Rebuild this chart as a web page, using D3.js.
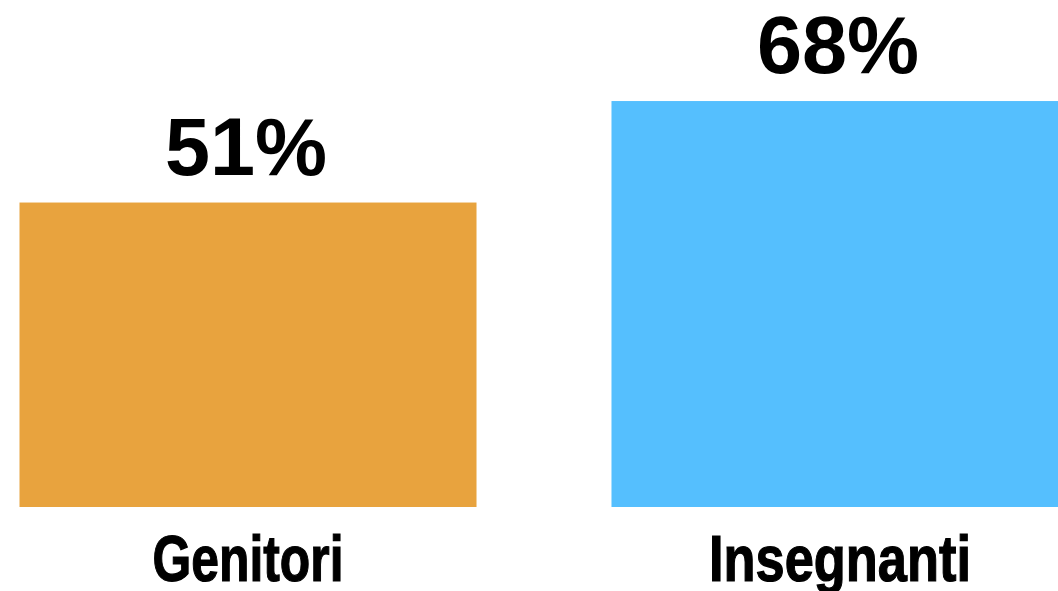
<!DOCTYPE html>
<html>
<head>
<meta charset="utf-8">
<script src="https://cdn.jsdelivr.net/npm/d3@7"></script>
<style>
  body { margin: 0; background: #fff; overflow: hidden; }
</style>
</head>
<body>
<svg id="mainsvg" width="1058" height="591"></svg>
<script>
const categories = ['Genitori', 'Insegnanti'];
const values = [51, 68];
const valueLabels = ['51%', '68%'];
const colors = ['#E8A33E', '#55BFFE'];

let svg = d3.select('#mainsvg');

// bars: baseline at 507, 100% would be ~597px tall
const x = d3.scaleBand()
  .domain(categories)
  .range([19.5, 1068.5])
  .paddingInner(0.228)
  .paddingOuter(0);

const y = d3.scaleLinear()
  .domain([0, 100])
  .range([507, 507 - 597]);

const data = categories.map((c, i) => ({ cat: c, value: values[i], label: valueLabels[i], color: colors[i] }));

svg.selectAll('rect.bar').data(data)
  .enter().append('rect')
  .attr('class', 'bar')
  .attr('x', d => x(d.cat))
  .attr('y', d => y(d.value))
  .attr('width', x.bandwidth())
  .attr('height', d => y(0) - y(d.value))
  .attr('fill', d => d.color);

// value labels above bars
svg.selectAll('text.val').data(data)
  .enter().append('text')
  .attr('class', 'val')
  .attr('x', d => x(d.cat) + x.bandwidth() / 2 - 2)
  .attr('y', d => y(d.value) - 28)
  .attr('text-anchor', 'middle')
  .attr('font-family', '"Liberation Sans", Arial, Helvetica, sans-serif')
  .attr('font-weight', 'bold')
  .attr('font-size', 81)
  .attr('textLength', 162)
  .attr('lengthAdjust', 'spacing')
  .attr('fill', '#000')
  .text(d => d.label);

// category labels, condensed bold
const catWidths = { 'Genitori': 191, 'Insegnanti': 262 };
svg.selectAll('text.cat').data(data)
  .enter().append('text')
  .attr('class', 'cat')
  .attr('x', d => x(d.cat) + x.bandwidth() / 2)
  .attr('y', 581)
  .attr('text-anchor', 'middle')
  .attr('font-family', '"Liberation Sans Narrow", "Liberation Sans", Arial, sans-serif')
  .attr('font-weight', 'bold')
  .attr('font-size', 64)
  .attr('textLength', d => catWidths[d.cat])
  .attr('lengthAdjust', 'spacingAndGlyphs')
  .attr('fill', '#000')
  .attr('stroke', '#000')
  .attr('stroke-width', 1.2)
  .text(d => d.cat);
</script>
</body>
</html>
